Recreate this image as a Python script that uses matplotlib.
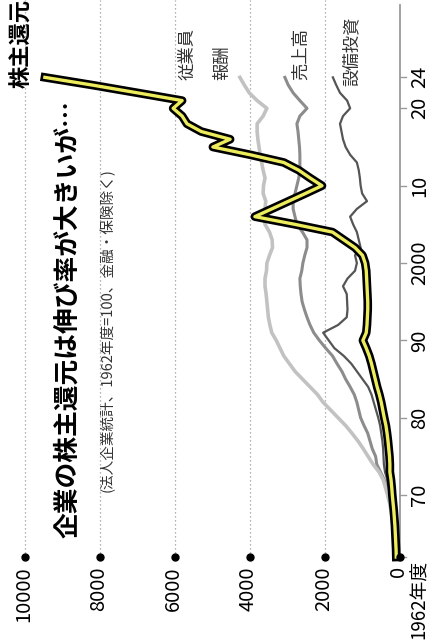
import matplotlib
matplotlib.use("Agg")
import matplotlib.pyplot as plt
import matplotlib.patheffects as pe

plt.rcParams['font.family'] = ['Noto Sans CJK JP', 'DejaVu Sans']

years = list(range(1962, 2025))

# 1962年度=100
shareholder = [100, 105, 115, 125, 135, 150, 165, 185, 205, 220,
               240, 270, 270, 280, 300, 320, 345, 375, 420, 460,
               500, 550, 610, 660, 710, 760, 820, 900, 990, 900,
               880, 870, 860, 860, 870, 880, 890, 900, 930, 1000,
               1200, 1500, 1800, 2800, 3870, 3420, 2970, 2520, 2080, 2400,
               2700, 3100, 4000, 4990, 4530, 5300, 5680, 5810, 6050, 5810,
               7000, 8200, 9470]
wages = [100, 115, 135, 155, 175, 205, 240, 280, 330, 390,
         450, 560, 720, 850, 980, 1120, 1280, 1450, 1650, 1850,
         2050, 2200, 2400, 2600, 2800, 2950, 3100, 3200, 3300, 3420,
         3470, 3510, 3530, 3550, 3570, 3600, 3600, 3560, 3550, 3480,
         3400, 3410, 3480, 3600, 3620, 3600, 3580, 3650, 3640, 3600,
         3650, 3690, 3730, 3760, 3790, 3810, 3810, 3650, 3550, 3810,
         4020, 4150, 4270]
sales = [100, 115, 135, 150, 170, 200, 230, 270, 320, 360,
         420, 520, 620, 650, 740, 800, 860, 960, 1050, 1100,
         1150, 1220, 1330, 1450, 1550, 1680, 1800, 1980, 2150, 2300,
         2400, 2480, 2550, 2610, 2640, 2660, 2670, 2620, 2590, 2540,
         2480, 2480, 2600, 2750, 2800, 2850, 2850, 2800, 2750, 2700,
         2670, 2670, 2670, 2680, 2700, 2720, 2750, 2670, 2480, 2670,
         2850, 2980, 3070]
capex = [100, 110, 125, 135, 150, 180, 210, 250, 300, 320,
         340, 400, 430, 440, 450, 470, 500, 530, 580, 640,
         700, 760, 850, 1000, 1150, 1300, 1500, 1750, 1900, 2050,
         1650, 1420, 1400, 1410, 1420, 1520, 1400, 1200, 1150, 1200,
         1050, 1100, 1150, 1250, 1330, 1150, 880, 1010, 1050, 1070,
         1100, 1150, 1330, 1450, 1520, 1560, 1600, 1520, 1330, 1410,
         1600, 1700, 1790]

value_ticks = [0, 2000, 4000, 6000, 8000, 10000]
year_ticks = [1962, 1970, 1980, 1990, 2000, 2010, 2020, 2024]
year_labels = ['1962年度', '70', '80', '90', '2000', '10', '20', '24']

fig = plt.figure(figsize=(4.33, 6.4), dpi=100)
ax = fig.add_axes([0, 0, 1, 1])
# chart is laid on its side: values run right-to-left, years bottom-to-top
ax.set_xlim(10667, -880)
ax.set_ylim(1951.28, 2034.0)
ax.axis('off')

# dotted grid and dots at the base
for v in value_ticks[1:]:
    ax.plot([v, v], [1962, 2034], color='#9a9a9a', lw=0.9,
            linestyle=(0, (1, 2.2)), zorder=1)
for v in value_ticks:
    ax.plot(v, 1962, 'o', color='black', ms=5, zorder=6)
    ax.text(v + 40, 1960.8, str(v), rotation=90, ha='center', va='top',
            fontsize=14.5)

# year axis
ax.plot([0, 0], [1962, 2033.3], color='#9a9a9a', lw=1.3, zorder=2)
for yr, lab in zip(year_ticks, year_labels):
    ax.plot([0, -170], [yr, yr], color='#9a9a9a', lw=1.0, zorder=2)
    if lab.endswith('年度'):
        ax.text(-520, yr - 0.35, lab, rotation=90, ha='center', va='top',
                fontsize=13.5)
    else:
        ax.text(-520, yr, lab, rotation=90, ha='center', va='center',
                fontsize=14.5)

ax.plot(capex, years, color='#555555', lw=1.6, zorder=3)
ax.plot(sales, years, color='#8c8c8c', lw=2.2, zorder=3)
ax.plot(wages, years, color='#c2c2c2', lw=2.6, zorder=3)
ax.plot(shareholder, years, color='#ecec5c', lw=2.4, zorder=5,
        solid_joinstyle='round',
        path_effects=[pe.Stroke(linewidth=6.2, foreground='black'), pe.Normal()])

# line labels
ax.text(10080, 2022.6, '株主還元', rotation=90, ha='center', va='bottom',
        fontsize=16, fontweight='bold')
ax.text(5653, 2023.6, '従業員', rotation=90, ha='center', va='bottom',
        fontsize=12.5, color='#333333')
ax.text(4747, 2023.6, '報酬', rotation=90, ha='center', va='bottom',
        fontsize=12.5, color='#333333')
ax.text(2640, 2023.6, '売上高', rotation=90, ha='center', va='bottom',
        fontsize=12.5, color='#333333')
ax.text(1280, 2022.9, '設備投資', rotation=90, ha='center', va='bottom',
        fontsize=12.5, color='#333333')

# heading
ax.text(8853, 1964.45, '企業の株主還元は伸び率が大きいが…', rotation=90,
        ha='center', va='bottom', fontsize=18.5, fontweight='bold')
ax.text(7813, 1970.4, '(法人企業統計、1962年度=100、金融・保険除く)', rotation=90,
        ha='center', va='bottom', fontsize=10.5, color='#333333')

fig.savefig('out.png', dpi=100, facecolor='white')
